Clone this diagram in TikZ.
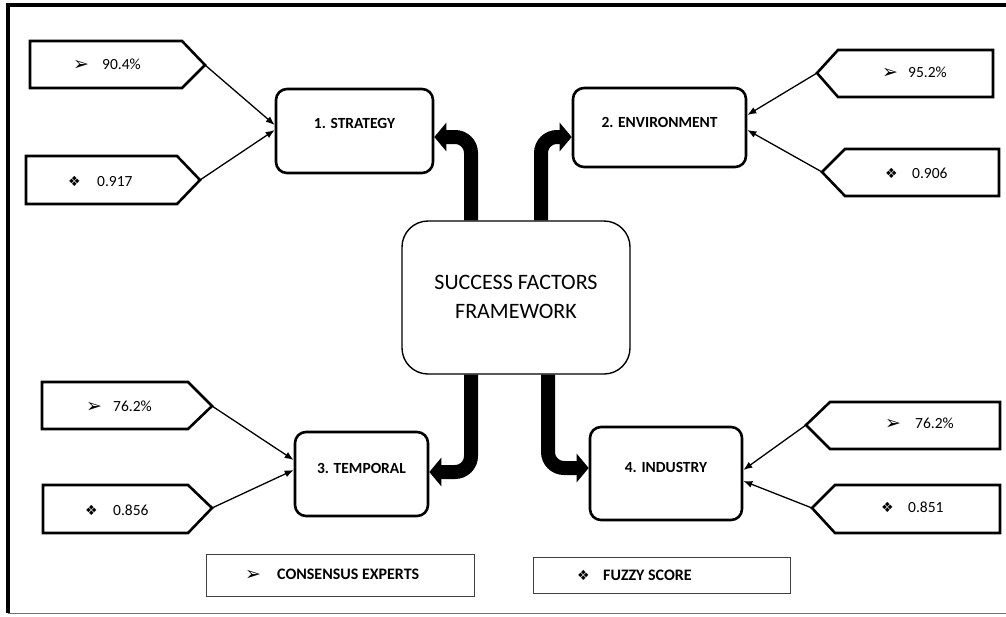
\documentclass[tikz,border=0pt]{standalone}
\usepackage{fontspec}
\setmainfont{Carlito}
\newfontfamily\symfont{DejaVu Sans}
\usetikzlibrary{arrows.meta}
\tikzset{
  factor/.style={draw=black, line width=2.6pt, rounded corners=11pt, fill=white},
  hub/.style={draw=black, line width=1.4pt, rounded corners=26pt, fill=white},
  pent/.style={draw=black, line width=2.6pt, line join=miter},
  legendbox/.style={draw=black!75, line width=1pt},
  thin/.style={draw=black, line width=1.3pt, -{Latex[length=9pt,width=7pt]}},
  fat/.style={draw=black, line width=14pt, rounded corners=16pt, -{Triangle[length=12pt,width=28pt]}},
  lbl/.style={font=\fontsize{15.5}{18}\selectfont\bfseries},
  val/.style={font=\fontsize{15.5}{18}\selectfont, anchor=west, inner sep=0pt},
}
\newcommand{\arrsym}[1]{\makebox[#1][l]{\raisebox{-1pt}{\symfont\fontsize{19}{19}\selectfont ➢}}}
\newcommand{\diasym}[1]{\makebox[#1][l]{\symfont\fontsize{14}{14}\selectfont ❖}}
\begin{document}
\begin{tikzpicture}[x=1pt,y=-1pt]
\useasboundingbox (0,0) rectangle (1006,616);
% frame
\draw[line width=3.5pt] (1010,5) -- (8,5) -- (8,613);
\draw[line width=1pt, black!55] (8,613) -- (1010,613);

% boxes
\node[factor, minimum width=157pt, minimum height=84pt,
  label={[lbl, yshift=8pt]center:1. STRATEGY}] (strategy) at (354.5,131) {};
\node[factor, minimum width=173pt, minimum height=79pt,
  label={[lbl, yshift=5.5pt]center:2. ENVIRONMENT}] (env) at (659.5,127.5) {};
\node[factor, minimum width=133pt, minimum height=84pt,
  label={[lbl, yshift=6pt]center:3. TEMPORAL}] (temporal) at (361.5,474) {};
\node[factor, minimum width=152pt, minimum height=93pt,
  label={[lbl, yshift=6.5pt]center:4. INDUSTRY}] (industry) at (666,473.5) {};
\node[hub, minimum width=228pt, minimum height=153pt, align=center,
  font=\fontsize{22}{30}\selectfont] (hub) at (516,297.5)
  {\raisebox{5.5pt}{\begin{tabular}{@{}c@{}}SUCCESS FACTORS\\[-1pt]FRAMEWORK\end{tabular}}};

% pentagons pointing right
\draw[pent] (30,41) -- (182,41) -- (205,65) coordinate (t1) -- (182,88) -- (30,88) -- cycle;
\draw[pent] (26,156) -- (177,156) -- (200,180) coordinate (t2) -- (177,204) -- (26,204) -- cycle;
\draw[pent] (42,382) -- (188,382) -- (212,406) coordinate (t5) -- (188,429) -- (42,429) -- cycle;
\draw[pent] (43,485) -- (188,485) -- (212,508) coordinate (t6) -- (188,533) -- (43,533) -- cycle;
% pentagons pointing left
\draw[pent] (993,50) -- (838,50) -- (817,73) coordinate (t3) -- (838,97) -- (993,97) -- cycle;
\draw[pent] (999,149) -- (845,149) -- (822,172) coordinate (t4) -- (845,196) -- (999,196) -- cycle;
\draw[pent] (1000,402) -- (830,402) -- (806,425) coordinate (t7) -- (830,449) -- (1000,449) -- cycle;
\draw[pent] (1000,485) -- (835,485) -- (812,508) coordinate (t8) -- (835,533) -- (1000,533) -- cycle;

% pentagon texts
\node[val] (v1) at (73,65) {\arrsym{29pt}90.4\%};
\node[val] (v2) at (68,181) {\diasym{29pt}0.917};
\node[val] (v3) at (882,73) {\arrsym{26pt}95.2\%};
\node[val] (v4) at (885,173) {\diasym{27pt}0.906};
\node[val] (v5) at (86,407) {\arrsym{27pt}76.2\%};
\node[val] (v6) at (85,510) {\diasym{28pt}0.856};
\node[val] (v7) at (885,424) {\arrsym{30pt}76.2\%};
\node[val] (v8) at (881,507) {\diasym{27pt}0.851};

% thin connectors
\draw[thin] (t1) -- ([yshift=6pt]strategy.west);
\draw[thin] (t2) -- ([yshift=1pt]strategy.west);
\draw[thin] (t3) -- ([yshift=12.5pt]env.east);
\draw[thin] (t4) -- ([yshift=-2.5pt]env.east);
\draw[thin] (t5) -- ([yshift=14pt]temporal.west);
\draw[thin] (t6) -- ([yshift=4pt]temporal.west);
\draw[thin] (t7) -- ([yshift=3.5pt]industry.east);
\draw[thin] (t8) -- ([yshift=-7.5pt]industry.east);

% thick connectors
\draw[fat] ([xshift=-45pt]hub.north) |- ([yshift=-6pt]strategy.east);
\draw[fat] ([xshift=25pt]hub.north) |- ([yshift=-9.5pt]env.west);
\draw[fat] ([xshift=-45pt]hub.south) |- ([yshift=2pt]temporal.east);
\draw[fat] ([xshift=32pt]hub.south) |- ([yshift=5.5pt]industry.west);

% legend
\node[legendbox, minimum width=268pt, minimum height=42pt] (leg1) at (340,575) {};
\node[val, font=\fontsize{16}{18}\selectfont\bfseries] (leg1t) at (245,575) {\arrsym{32pt}CONSENSUS EXPERTS};
\node[legendbox, minimum width=257pt, minimum height=36pt] (leg2) at (661.5,575) {};
\node[val, font=\fontsize{16}{18}\selectfont\bfseries] (leg2t) at (577,575) {\diasym{26pt}FUZZY SCORE};
\end{tikzpicture}
\end{document}
